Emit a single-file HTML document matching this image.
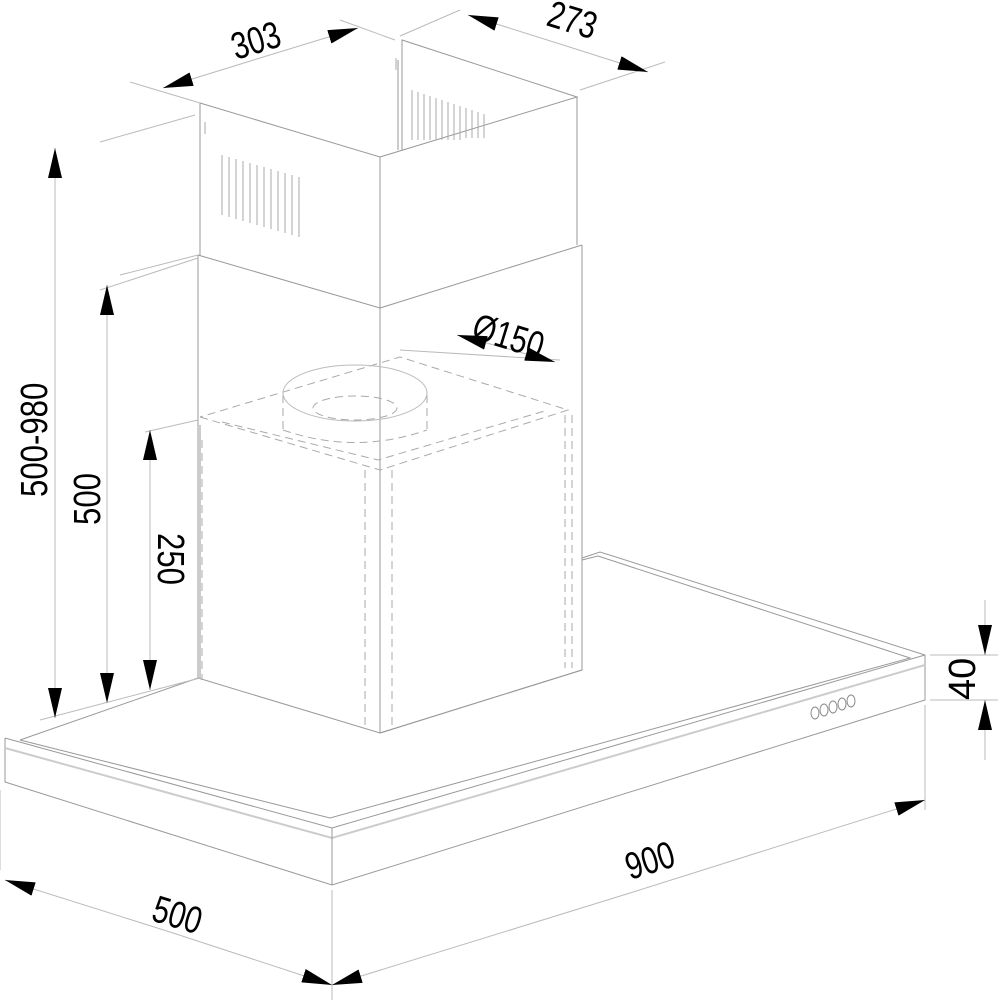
<!DOCTYPE html>
<html><head><style>body{margin:0;background:#fff}svg{display:block}text{font-family:"Liberation Sans",sans-serif;font-size:38px;fill:#000}</style></head>
<body>
<svg width="1000" height="1000" viewBox="0 0 1000 1000" xmlns="http://www.w3.org/2000/svg">
<defs><marker id="a" viewBox="0 0 30 14" refX="30" refY="7" markerWidth="30" markerHeight="14" markerUnits="userSpaceOnUse" orient="auto"><path d="M0,0L30,7L0,14z" fill="#000"/></marker></defs>
<g fill="none" stroke="#999" stroke-width="1">
<path d="M5,738L332,828L925,655"/>
<path d="M5,738V782L332,885L925,700V655"/>
<path d="M5,748L332,838L925,665" stroke="#ccc" stroke-width="2"/>
<path d="M20,740L198,678M380,733L582,670"/>
<path d="M20,740L330,818L910,658L598,556L582,560"/>
<path d="M582,558L600,552L925,655"/>
<path d="M332,828V885"/>
<path d="M198,255V678L380,733L582,670V245"/>
<path d="M380,308V733"/>
<path d="M198,255L380,308L582,245"/>
<path d="M200,103V255M200,103L380,157L577,97L402,40V150M380,157V308M577,97V245M398,60V150"/>
<g stroke="#aaa">
<path d="M222,155v60M229,157v60M236,159v60M243,161v60M250,163v60M257,165v60M264,167v60M271,169v60M278,171v60M285,173v60M292,175v60M299,177v60"/>
<path d="M412,90v50M418,92v48M424,94v46M430,96v44M436,98v42M442,100v40M448,102v38M454,104v36M460,106v34M466,108v30M472,110v28M478,112v26M484,114v24"/>
<path d="M205,122v12M396,58v12"/>
</g>
<g stroke="#aaa" stroke-dasharray="8,5">
<path d="M200,417L380,470L568,410L400,357L200,417"/>
<path d="M222,422L378,460L548,410"/>
<path d="M202,440V680M365,470V730M392,470V730M565,415V668M572,415V668"/>
<ellipse cx="355" cy="408" rx="42" ry="12"/>
<path d="M283,395V430M427,395V430"/>
<path d="M283,430Q355,455 427,430"/>
</g>
<ellipse cx="355" cy="393" rx="72" ry="28" stroke="#bbb"/>
<path d="M200,425V678"/>
<g stroke="#888"><ellipse cx="815" cy="713" rx="4" ry="6"/><ellipse cx="824" cy="710" rx="4" ry="6"/><ellipse cx="833" cy="707" rx="4" ry="6"/><ellipse cx="842" cy="704" rx="4" ry="6"/><ellipse cx="851" cy="701" rx="4" ry="6"/></g>
</g>
<g stroke="#bbb" stroke-width="1" fill="none">
<path d="M130,82L200,103M120,275L198,255M100,290L198,258M100,142L195,115M145,432L198,420M340,20L395,40M460,10L400,36M580,90L665,62M560,360L400,350M930,655H998M930,700H998M0,790V870M332,890V1000M925,705V810M40,720L200,678"/>
</g>
<g stroke="#bbb" stroke-width="1" fill="none">
<line x1="260" y1="58" x2="163" y2="88" marker-end="url(#a)"/>
<line x1="260" y1="58" x2="358" y2="28" marker-end="url(#a)"/>
<line x1="560" y1="44" x2="468" y2="15" marker-end="url(#a)"/>
<line x1="560" y1="44" x2="648" y2="72" marker-end="url(#a)"/>
<line x1="505" y1="348" x2="457" y2="335" marker-end="url(#a)"/>
<line x1="505" y1="348" x2="555" y2="362" marker-end="url(#a)"/>
<line x1="55" y1="430" x2="55" y2="148" marker-end="url(#a)"/>
<line x1="55" y1="430" x2="55" y2="718" marker-end="url(#a)"/>
<line x1="107" y1="500" x2="107" y2="285" marker-end="url(#a)"/>
<line x1="107" y1="500" x2="107" y2="703" marker-end="url(#a)"/>
<line x1="150" y1="560" x2="150" y2="430" marker-end="url(#a)"/>
<line x1="150" y1="560" x2="150" y2="690" marker-end="url(#a)"/>
<line x1="985" y1="600" x2="985" y2="655" marker-end="url(#a)"/>
<line x1="985" y1="760" x2="985" y2="700" marker-end="url(#a)"/>
<line x1="170" y1="932" x2="5" y2="880" marker-end="url(#a)"/>
<line x1="170" y1="932" x2="332" y2="985" marker-end="url(#a)"/>
<line x1="630" y1="893" x2="332" y2="985" marker-end="url(#a)"/>
<line x1="630" y1="893" x2="925" y2="800" marker-end="url(#a)"/>
</g>
<text transform="translate(236,60) rotate(-17) scale(0.78,1)">303</text>
<text transform="translate(545,25) rotate(17) scale(0.78,1)">273</text>
<text transform="translate(470,338) rotate(17) scale(0.78,1)">Ø150</text>
<text transform="translate(47,497) rotate(-90) scale(0.82,1)">500-980</text>
<text transform="translate(100,525) rotate(-90) scale(0.82,1)">500</text>
<text transform="translate(158,533) rotate(90) scale(0.82,1)">250</text>
<text transform="translate(975,700) rotate(-90)">40</text>
<text transform="translate(150,920) rotate(17) scale(0.78,1)">500</text>
<text transform="translate(630,880) rotate(-17) scale(0.78,1)">900</text>
</svg>
</body></html>
